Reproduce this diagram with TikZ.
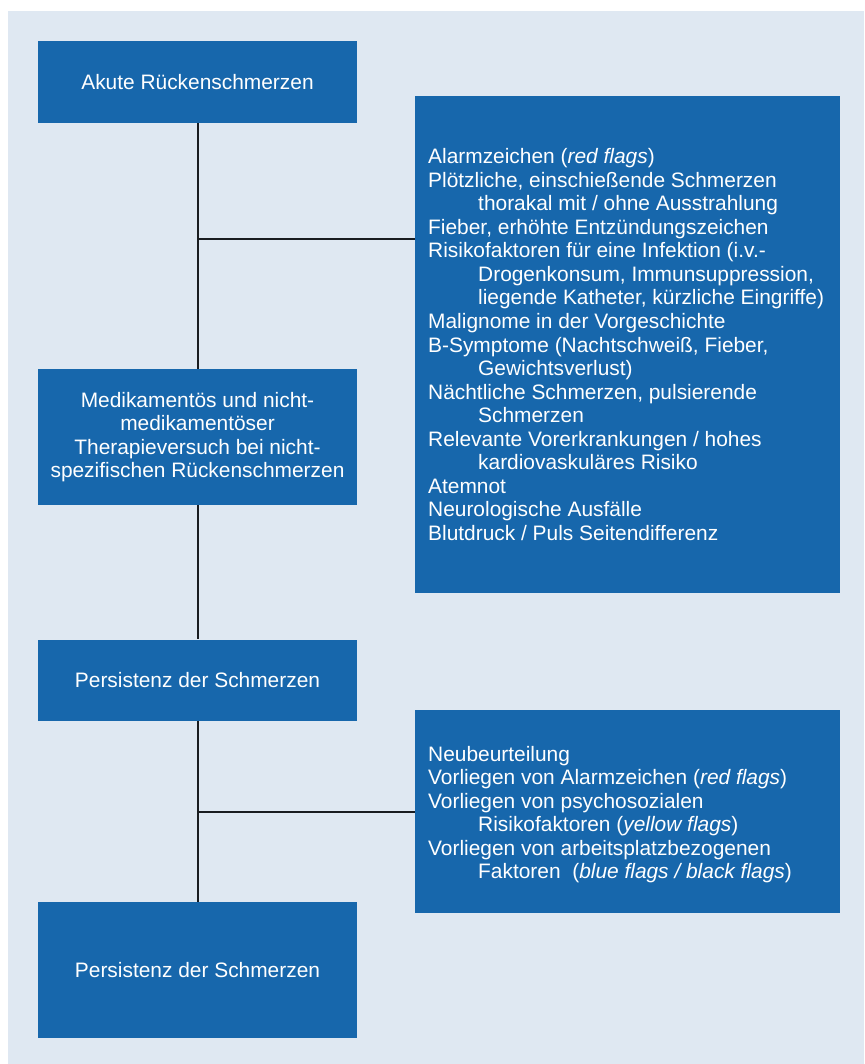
\documentclass[tikz,border=0pt]{standalone}
\usepackage{fontspec}
\setmainfont{Liberation Sans}
\definecolor{boxblue}{RGB}{23,103,172}
\definecolor{bglight}{RGB}{223,232,242}
\definecolor{linedark}{RGB}{25,28,32}
\begin{document}
\begin{tikzpicture}[x=1pt,y=-1pt,
  bluebox/.style={draw=none,fill=boxblue,inner sep=0pt,text=white,align=center,
    font=\fontsize{20.9}{23.5}\selectfont},
  linetext/.style={anchor=base west,inner sep=0pt,text=white,
    font=\fontsize{20.9}{23.5}\selectfont},
  conn/.style={draw=linedark,line width=2pt}]
\useasboundingbox (0,0) rectangle (864,1064);
\fill[bglight] (8,11) rectangle (864,1064);
% left column
\node[bluebox,minimum width=319pt,minimum height=82pt] (b1) at (197.5,82) {Akute Rückenschmerzen};
\node[bluebox,minimum width=319pt,minimum height=136pt] (b2) at (197.5,437)
  {Medikamentös und nicht-\\medikamentöser\\Therapieversuch bei nicht-\\spezifischen Rückenschmerzen};
\node[bluebox,minimum width=319pt,minimum height=81pt] (b3) at (197.5,680) {Persistenz der Schmerzen};
\node[bluebox,minimum width=319pt,minimum height=136pt] (b4) at (197.5,970) {Persistenz der Schmerzen};
% right boxes
\node[bluebox,minimum width=425pt,minimum height=497pt] (r1) at (627.5,344.5) {};
\node[bluebox,minimum width=425pt,minimum height=203pt] (r2) at (627.5,811.5) {};
% text of right box 1
\foreach \t/\ind [count=\i from 0] in {
  {Alarmzeichen (\textit{red flags})}/0,
  {Plötzliche, einschießende Schmerzen}/0,
  {thorakal mit / ohne Ausstrahlung}/1,
  {Fieber, erhöhte Entzündungszeichen}/0,
  {Risikofaktoren für eine Infektion (i.v.-}/0,
  {Drogenkonsum, Immunsuppression,}/1,
  {liegende Katheter, kürzliche Eingriffe)}/1,
  {Malignome in der Vorgeschichte}/0,
  {B-Symptome (Nachtschweiß, Fieber,}/0,
  {Gewichtsverlust)}/1,
  {Nächtliche Schmerzen, pulsierende}/0,
  {Schmerzen}/1,
  {Relevante Vorerkrankungen / hohes}/0,
  {kardiovaskuläres Risiko}/1,
  {Atemnot}/0,
  {Neurologische Ausfälle}/0,
  {Blutdruck / Puls Seitendifferenz}/0}
  \node[linetext] (ra\i) at (428+50*\ind,164+23.5*\i) {\t};
% text of right box 2
\foreach \t/\ind [count=\i from 0] in {
  {Neubeurteilung}/0,
  {Vorliegen von Alarmzeichen (\textit{red flags})}/0,
  {Vorliegen von psychosozialen}/0,
  {Risikofaktoren (\textit{yellow flags})}/1,
  {Vorliegen von arbeitsplatzbezogenen}/0,
  {Faktoren\ \ (\textit{blue flags / black flags})}/1}
  \node[linetext] (rb\i) at (428+50*\ind,761+23.5*\i) {\t};
% connectors
\coordinate (j1) at (197.5,239);
\coordinate (j2) at (197.5,812);
\draw[conn] (b1.south) -- (b2.north);
\draw[conn] (b2.south) -- (b3.north);
\draw[conn] (b3.south) -- (b4.north);
\draw[conn] (j1) -- (j1 -| r1.west);
\draw[conn] (j2) -- (j2 -| r2.west);
\end{tikzpicture}
\end{document}
